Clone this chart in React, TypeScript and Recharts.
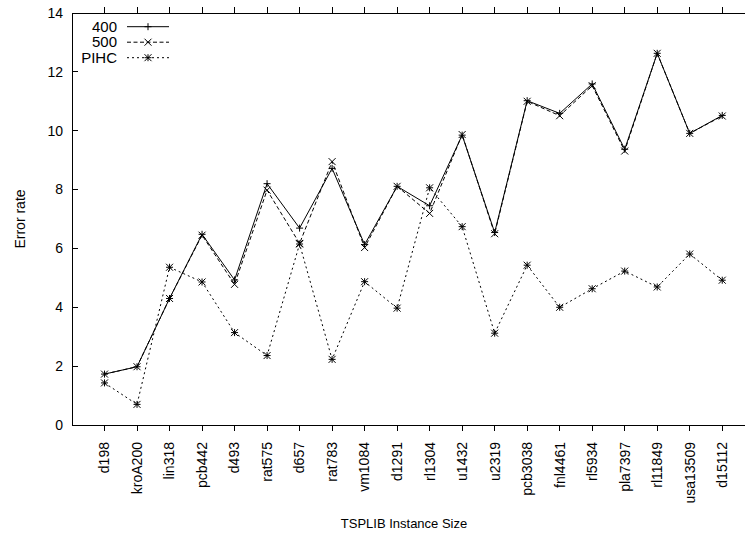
import React from "react";
import { LineChart, Line, XAxis, YAxis } from "recharts";

const categories = [
  "d198", "kroA200", "lin318", "pcb442", "d493", "rat575", "d657", "rat783",
  "vm1084", "d1291", "rl1304", "u1432", "u2319", "pcb3038", "fnl4461",
  "rl5934", "pla7397", "rl11849", "usa13509", "d15112",
];
const err400 = [1.73, 1.98, 4.3, 6.48, 4.93, 8.2, 6.69, 8.72, 6.13, 8.11, 7.45, 9.85, 6.54, 11.02, 10.59, 11.59, 9.37, 12.63, 9.91, 10.52];
const err500 = [1.73, 1.98, 4.3, 6.45, 4.78, 7.98, 6.17, 8.95, 6.03, 8.11, 7.19, 9.87, 6.5, 11.0, 10.51, 11.53, 9.31, 12.63, 9.91, 10.5];
const errPIHC = [1.43, 0.7, 5.36, 4.86, 3.14, 2.36, 6.15, 2.23, 4.87, 3.97, 8.06, 6.74, 3.12, 5.43, 4.0, 4.63, 5.23, 4.69, 5.81, 4.92];
const yTicks = [0, 2, 4, 6, 8, 10, 12, 14];

const series = [
  { key: "s400", name: "400", dash: undefined, marker: "plus" },
  { key: "s500", name: "500", dash: "4 2.5", marker: "cross" },
  { key: "pihc", name: "PIHC", dash: "2 3", marker: "star" },
];

const data = categories.map((name, idx) => ({
  idx,
  name,
  s400: err400[idx],
  s500: err500[idx],
  pihc: errPIHC[idx],
}));

const FONT = "'Liberation Sans', Arial, Helvetica, sans-serif";
const W = 745;
const H = 539;
const PLOT_LEFT = 72;
const PLOT_TOP = 13;
const X_AXIS_H = 114;
const X_DOMAIN = [-1, 19.7];
const Y_DOMAIN = [0, 14];
const PLOT_BOTTOM = H - X_AXIS_H;

// same linear mapping as the chart's axes, used for the gnuplot-style frame
const xPos = (v: number) => PLOT_LEFT + ((v - X_DOMAIN[0]) / (X_DOMAIN[1] - X_DOMAIN[0])) * (W - PLOT_LEFT);
const yPos = (v: number) => PLOT_BOTTOM - ((v - Y_DOMAIN[0]) / (Y_DOMAIN[1] - Y_DOMAIN[0])) * (PLOT_BOTTOM - PLOT_TOP);

const Marker = ({ kind, cx, cy, r = 3.5 }: { kind: string; cx: number; cy: number; r?: number }) => {
  const plus = `M${cx - r},${cy}H${cx + r}M${cx},${cy - r}V${cy + r}`;
  const cross = `M${cx - r},${cy - r}L${cx + r},${cy + r}M${cx + r},${cy - r}L${cx - r},${cy + r}`;
  const d = kind === "plus" ? plus : kind === "cross" ? cross : plus + cross;
  return <path d={d} stroke="#000" strokeWidth={1} fill="none" />;
};

const YTick = (props: any) => {
  const { x, y, payload } = props;
  return (
    <text x={x} y={y} dy="0.35em" textAnchor="end" fontSize={14} fill="#000" fontFamily={FONT}>
      {payload.value}
    </text>
  );
};

const XTick = (props: any) => {
  const { x, y, payload } = props;
  return (
    <text
      x={x}
      y={y}
      dy="0.35em"
      textAnchor="end"
      transform={`rotate(-90, ${x}, ${y})`}
      fontSize={14}
      fill="#000"
      fontFamily={FONT}
    >
      {categories[payload.value]}
    </text>
  );
};

const Frame = () => (
  <svg width={W} height={H} style={{ position: "absolute", left: 0, top: 0, pointerEvents: "none" }}>
    <g stroke="#000" strokeWidth={1} fill="none" shapeRendering="crispEdges">
      <path d={`M${PLOT_LEFT},${PLOT_TOP}V${PLOT_BOTTOM}H${W}`} />
      <path d={`M${PLOT_LEFT},${PLOT_TOP}H${W}`} />
      {yTicks.map((t) => (
        <path key={`y${t}`} d={`M${PLOT_LEFT},${yPos(t)}h6`} />
      ))}
      {data.map((d) => (
        <path key={`b${d.idx}`} d={`M${xPos(d.idx)},${PLOT_BOTTOM}v6`} />
      ))}
      {data.map((d) => (
        <path key={`t${d.idx}`} d={`M${xPos(d.idx)},${PLOT_TOP}v-6`} />
      ))}
    </g>
    {series.map((s, i) => {
      const y = 26.7 + i * 15.5;
      return (
        <g key={s.key}>
          <text x={117} y={y} dy="0.35em" textAnchor="end" fontSize={15} fontFamily={FONT} fill="#000">
            {s.name}
          </text>
          <line x1={127} x2={169} y1={y} y2={y} stroke="#000" strokeDasharray={s.dash} />
          <Marker kind={s.marker} cx={148} cy={y} />
        </g>
      );
    })}
  </svg>
);

export default function App() {
  return (
    <div style={{ position: "absolute", left: 0, top: 0, width: W, height: H, background: "#fff" }}>
      <LineChart width={W} height={H} data={data} margin={{ top: PLOT_TOP, right: 0, left: 0, bottom: 0 }}>
        <XAxis
          dataKey="idx"
          type="number"
          domain={X_DOMAIN}
          ticks={data.map((d) => d.idx)}
          height={X_AXIS_H}
          tickSize={6}
          tickMargin={11}
          tickLine={false}
          axisLine={false}
          tick={<XTick />}
          label={{
            content: () => (
              <text x={404} y={528} textAnchor="middle" fontSize={13} fontFamily={FONT} fill="#000">
                TSPLIB Instance Size
              </text>
            ),
          }}
        />
        <YAxis
          type="number"
          domain={Y_DOMAIN}
          ticks={yTicks}
          width={PLOT_LEFT}
          tickSize={0}
          tickMargin={9}
          tickLine={false}
          axisLine={false}
          tick={<YTick />}
          label={{
            content: (p: any) => {
              const vb = p.viewBox;
              const cx = 20.5;
              const cy = vb.y + vb.height / 2;
              return (
                <text
                  x={cx}
                  y={cy}
                  dy="0.35em"
                  textAnchor="middle"
                  transform={`rotate(-90, ${cx}, ${cy})`}
                  fontSize={14}
                  fontFamily={FONT}
                  fill="#000"
                >
                  Error rate
                </text>
              );
            },
          }}
        />
        {series.map((s) => (
          <Line
            key={s.key}
            dataKey={s.key}
            name={s.name}
            type="linear"
            stroke="#000"
            strokeWidth={1}
            strokeDasharray={s.dash}
            isAnimationActive={false}
            activeDot={false}
            dot={(p: any) => <Marker key={`${s.key}-${p.index}`} kind={s.marker} cx={p.cx} cy={p.cy} />}
          />
        ))}
      </LineChart>
      <Frame />
    </div>
  );
}
